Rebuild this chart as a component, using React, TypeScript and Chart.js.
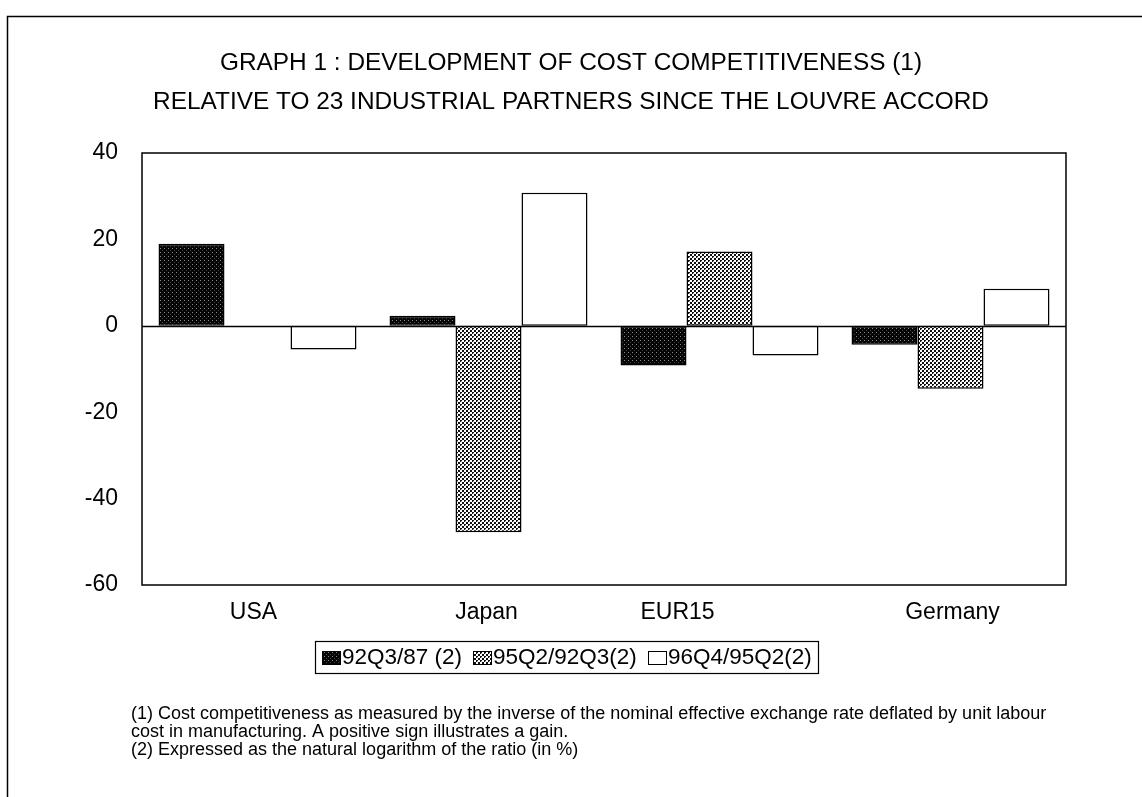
import React, { useEffect, useRef } from "react";
import { Chart, registerables } from "chart.js";

Chart.register(...registerables);

const categories = ["USA", "Japan", "EUR15", "Germany"];
const seriesNames = ["92Q3/87 (2)", "95Q2/92Q3(2)", "96Q4/95Q2(2)"];
const s92Q3_87 = [19.0, 2.3, -9.2, -4.4];
const s95Q2_92Q3 = [0, -47.8, 17.2, -14.6];
const s96Q4_95Q2 = [-5.5, 30.8, -6.9, 8.6];
const yTicks = [40, 20, 0, -20, -40, -60];
const titleLines = [
  "GRAPH 1 : DEVELOPMENT OF COST COMPETITIVENESS (1)",
  "RELATIVE TO 23 INDUSTRIAL PARTNERS SINCE THE LOUVRE ACCORD",
];
const footnotes = [
  "(1) Cost competitiveness as measured by the inverse of the nominal effective exchange rate deflated by unit labour",
  "cost in manufacturing. A positive sign illustrates a gain.",
  "(2) Expressed as the natural logarithm of the ratio (in %)",
];

const FONT = '"Liberation Sans", Arial, sans-serif';
// horizontal nudge of category labels (as in the original print)
const labelShift = [-4, -2, -42, 2];

function makePattern(kind: string): CanvasPattern | string {
  const c = document.createElement("canvas");
  c.width = 4;
  c.height = 4;
  const g = c.getContext("2d");
  if (!g) return "#888";
  if (kind === "dark") {
    g.fillStyle = "#050505";
    g.fillRect(0, 0, 4, 4);
    g.fillStyle = "#8a8a8a";
    g.fillRect(0, 0, 1, 1);
    g.fillStyle = "#444";
    g.fillRect(2, 2, 1, 1);
  } else if (kind === "mid") {
    g.fillStyle = "#ffffff";
    g.fillRect(0, 0, 4, 4);
    g.fillStyle = "#111";
    g.fillRect(0, 0, 2, 2);
    g.fillRect(2, 2, 2, 2);
    g.fillStyle = "#bbb";
    g.fillRect(1, 1, 1, 1);
  } else {
    g.fillStyle = "#ffffff";
    g.fillRect(0, 0, 4, 4);
  }
  const p = g.createPattern(c, "repeat");
  return p || "#888";
}

export default function App() {
  const ref = useRef<HTMLCanvasElement | null>(null);

  useEffect(() => {
    const canvas = ref.current;
    if (!canvas) return;
    const dark = makePattern("dark");
    const mid = makePattern("mid");
    const light = makePattern("light");
    const fills = [dark, mid, light];

    const decor = {
      id: "decor",
      beforeDraw(chart: any) {
        const ctx = chart.ctx;
        ctx.save();
        ctx.fillStyle = "#fff";
        ctx.fillRect(0, 0, chart.width, chart.height);
        // outer frame
        ctx.strokeStyle = "#000";
        ctx.lineWidth = 1.5;
        ctx.beginPath();
        ctx.moveTo(7.5, 900);
        ctx.lineTo(7.5, 16.5);
        ctx.lineTo(1200, 16.5);
        ctx.stroke();
        // title
        ctx.fillStyle = "#000";
        ctx.textAlign = "center";
        ctx.textBaseline = "middle";
        ctx.font = `24.4px ${FONT}`;
        ctx.fillText(titleLines[0], 571, 63);
        ctx.fillText(titleLines[1], 571, 102);
        // footnotes
        ctx.textAlign = "left";
        ctx.font = `18px ${FONT}`;
        footnotes.forEach((t, i) => ctx.fillText(t, 131, 714 + i * 18));
        // legend
        const lx0 = 315, lx1 = 818, ly0 = 641, ly1 = 673;
        ctx.lineWidth = 1.2;
        ctx.strokeRect(lx0 + 0.5, ly0 + 0.5, lx1 - lx0, ly1 - ly0);
        const markX = [322, 473, 648];
        ctx.font = `22.5px ${FONT}`;
        seriesNames.forEach((name, i) => {
          ctx.fillStyle = fills[i] as any;
          ctx.fillRect(markX[i], 651, 18, 13);
          ctx.lineWidth = 1;
          ctx.strokeStyle = "#000";
          ctx.strokeRect(markX[i] + 0.5, 651.5, 18, 13);
          ctx.fillStyle = "#000";
          ctx.fillText(name, markX[i] + 20, 658);
        });
        ctx.restore();
      },
      afterDatasetsDraw(chart: any) {
        const ctx = chart.ctx;
        const a = chart.chartArea;
        const y0 = chart.scales.y.getPixelForValue(0);
        ctx.save();
        ctx.strokeStyle = "#000";
        ctx.lineWidth = 1.5;
        ctx.beginPath();
        ctx.moveTo(a.left, Math.round(y0) + 0.5);
        ctx.lineTo(a.right, Math.round(y0) + 0.5);
        ctx.stroke();
        ctx.lineWidth = 1.5;
        ctx.strokeRect(a.left, a.top, a.right - a.left, a.bottom - a.top);
        // category labels
        const xs = chart.scales.x;
        ctx.fillStyle = "#000";
        ctx.font = `23px ${FONT}`;
        ctx.textAlign = "center";
        ctx.textBaseline = "middle";
        categories.forEach((c, i) => {
          ctx.fillText(c, xs.getPixelForValue(i) + labelShift[i], a.bottom + 28);
        });
        ctx.restore();
      },
    };

    const chart = new Chart(canvas, {
      type: "bar",
      data: {
        labels: categories,
        datasets: [s92Q3_87, s95Q2_92Q3, s96Q4_95Q2].map((d, i) => ({
          label: seriesNames[i],
          data: d,
          backgroundColor: fills[i] as any,
          borderColor: "#000",
          borderWidth: 1.5,
          borderSkipped: false,
          categoryPercentage: 0.857,
          barPercentage: 1.0,
        })),
      },
      options: {
        responsive: false,
        animation: false,
        layout: { padding: { left: 0, right: 76, top: 153, bottom: 152 } },
        plugins: {
          legend: { display: false },
          title: { display: false },
          tooltip: { enabled: false },
        },
        scales: {
          x: {
            grid: { display: false, drawTicks: false },
            border: { display: false },
            ticks: { display: false },
            afterFit(scale: any) {
              scale.height = 60;
            },
          },
          y: {
            min: -60,
            max: 40,
            afterBuildTicks(scale: any) {
              scale.ticks = yTicks.map((v) => ({ value: v }));
            },
            grid: { display: false, drawTicks: false },
            border: { display: false },
            ticks: {
              color: "#000",
              font: { family: FONT, size: 23 },
              padding: 24,
            },
            afterFit(scale: any) {
              scale.width = 142;
            },
          },
        },
      },
      plugins: [decor],
    });
    return () => chart.destroy();
  }, []);

  return (
    <div style={{ position: "fixed", left: 0, top: 0, width: 1142, height: 797, background: "#fff" }}>
      <canvas ref={ref} width={1142} height={797} style={{ display: "block" }} />
    </div>
  );
}
